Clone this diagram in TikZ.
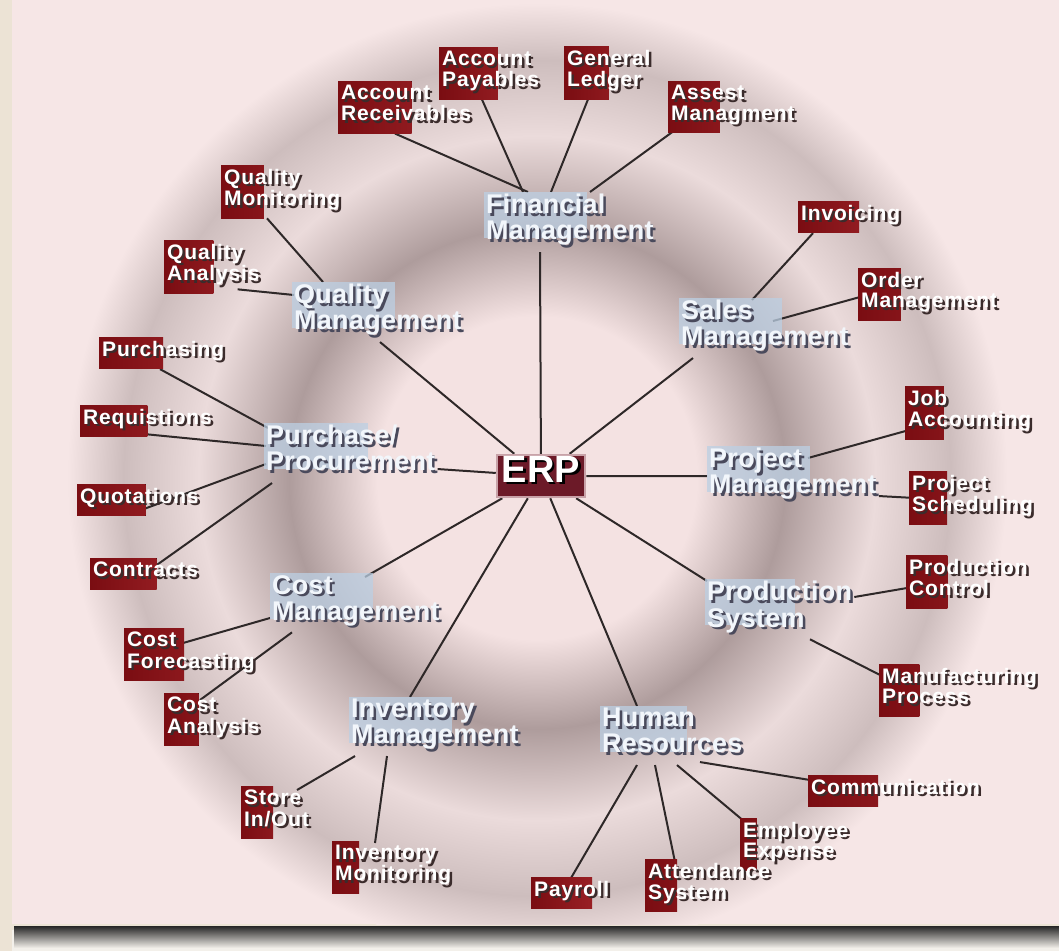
\documentclass[tikz,border=0pt]{standalone}
\usepackage{fontspec}
\setmainfont{Liberation Sans}
\newfontfamily\leafff[LetterSpace=4]{Liberation Sans}
\newfontfamily\modff[LetterSpace=1]{Liberation Sans}
\usetikzlibrary{calc}
\definecolor{rc0}{HTML}{F4E2E2}
\definecolor{rc1}{HTML}{AE9C9C}
\definecolor{rc2}{HTML}{EBDBDB}
\definecolor{rc3}{HTML}{CDBDBD}
\definecolor{rc4}{HTML}{F6E6E6}
\definecolor{panel}{HTML}{F6E6E6}
\definecolor{beige}{HTML}{ECE3D5}
\definecolor{lowbg}{HTML}{F3F0EA}
\definecolor{redA}{HTML}{7A0D12}
\definecolor{redB}{HTML}{A3262B}
\definecolor{bluebox}{HTML}{BCD0E4}
\definecolor{leafsh}{HTML}{3B2C2C}
\definecolor{modsh}{HTML}{4A4A5C}
\definecolor{modtext}{HTML}{F2F6FB}
\definecolor{lineC}{HTML}{2E2828}
\definecolor{erpfill}{HTML}{6C1A28}
\definecolor{erpedge}{HTML}{C8A2A8}
\pgfdeclareradialshading{erpring}{\pgfpoint{0bp}{0bp}}{color(0bp)=(rc0); color(8.5bp)=(rc0); color(13.2bp)=(rc1); color(18bp)=(rc2); color(22bp)=(rc3); color(25bp)=(rc4); color(50bp)=(rc4)}
\pgfdeclarelayer{bg}
\pgfdeclarelayer{lines}
\pgfsetlayers{bg,lines,main}
\newlength\shoff
\setlength\shoff{2.5pt}
\def\shcol{leafsh}
\newcommand\sh[1]{\leavevmode\rlap{\kern\shoff\raisebox{-\shoff}{\color{\shcol}\begin{tabular}[b]{@{}l@{}}#1\end{tabular}}}\begin{tabular}[b]{@{}l@{}}#1\end{tabular}}
\begin{document}
\begin{tikzpicture}[x=1pt,y=-1pt,
  leaf/.style={anchor=north west, inner xsep=3pt, inner ysep=4pt, text=white,
    font={\leafff\bfseries\fontsize{21}{20}\selectfont\def\shcol{leafsh}\setlength\shoff{2.5pt}},
    path picture={\fill[left color=redA, right color=redB] (path picture bounding box.north west) rectangle ($(path picture bounding box.south west)!#1!(path picture bounding box.south east)$);}},
  leaf/.default=0.5,
  mod/.style={anchor=north west, inner sep=2pt, text=modtext,
    font={\modff\bfseries\fontsize{27}{25}\selectfont\def\shcol{modsh}\setlength\shoff{2.5pt}},
    path picture={\fill[bluebox, opacity=0.75] (path picture bounding box.north west) rectangle ($(path picture bounding box.north west)!0.6!(path picture bounding box.north east)+(0,46)$);}},
  erpbox/.style={draw=erpedge, line width=2.5pt, fill=erpfill, minimum width=88pt, minimum height=42pt, inner sep=0pt, text=white,
    font={\bfseries\fontsize{38}{38}\selectfont\def\shcol{black}\setlength\shoff{2.5pt}}},
  conn/.style={draw=lineC, line width=2pt}]
\useasboundingbox (0,0) rectangle (1059,951);

% ---------- nodes ----------
\node[erpbox] (erp) at (541,476) {\sh{ERP}};

\node[mod] (fin)   at (484,192) {\sh{Financial\\Management}};
\node[mod] (qual)  at (292,282) {\sh{Quality\\Management}};
\node[mod] (sales) at (679,298) {\sh{Sales\\Management}};
\node[mod] (purch) at (264,423) {\sh{Purchase/\\Procurement}};
\node[mod] (proj)  at (707,446) {\sh{Project\\Management}};
\node[mod] (cost)  at (270,573) {\sh{Cost\\Management}};
\node[mod] (prod)  at (705,579) {\sh{Production\\System}};
\node[mod] (invm)  at (349,697) {\sh{Inventory\\Management}};
\node[mod] (hr)    at (600,706) {\sh{Human\\Resources}};

\node[leaf=.54] (ar)   at (338,81)  {\sh{Account\\Receivables}};
\node[leaf=.57] (ap)   at (439,47)  {\sh{Account\\Payables}};
\node[leaf=.5]  (gl)   at (564,46)  {\sh{General\\Ledger}};
\node[leaf=.4]  (am)   at (668,81)  {\sh{Assest\\Managment}};
\node[leaf=.35] (qm)   at (221,165) {\sh{Quality\\Monitoring}};
\node[leaf=.5]  (qa)   at (164,240) {\sh{Quality\\Analysis}};
\node[leaf=.58] (inv)  at (798,201) {\sh{Invoicing}};
\node[leaf=.3]  (om)   at (858,268) {\sh{Order\\Management}};
\node[leaf=.5]  (pur)  at (99,337)  {\sh{Purchasing}};
\node[leaf=.5]  (req)  at (80,405)  {\sh{Requistions}};
\node[leaf=.55] (quo)  at (77,484)  {\sh{Quotations}};
\node[leaf=.6]  (con)  at (90,558)  {\sh{Contracts}};
\node[leaf=.3]  (ja)   at (905,386) {\sh{Job\\Accounting}};
\node[leaf=.3]  (ps)   at (909,471) {\sh{Project\\Scheduling}};
\node[leaf=.45] (cf)   at (124,628) {\sh{Cost\\Forecasting}};
\node[leaf=.35] (ca)   at (164,693) {\sh{Cost\\Analysis}};
\node[leaf=.33] (pc)   at (906,555) {\sh{Production\\Control}};
\node[leaf=.25] (mp)   at (879,664) {\sh{Manufacturing\\Process}};
\node[leaf=.45] (sio)  at (241,786) {\sh{Store\\In/Out}};
\node[leaf=.22] (im)   at (332,841) {\sh{Inventory\\Monitoring}};
\node[leaf=.4]  (comm) at (808,775) {\sh{Communication}};
\node[leaf=.15] (ee)   at (740,818) {\sh{Employee\\Expense}};
\node[leaf=.25] (as)   at (645,859) {\sh{Attendance\\System}};
\node[leaf=.75] (pay)  at (531,877) {\sh{Payroll}};

% ---------- background ----------
\begin{pgfonlayer}{bg}
  \fill[beige] (0,0) rectangle (1059,951);
  \fill[lowbg] (12,930) rectangle (1059,951);
  \fill[panel] (12,0) rectangle (1059,924);
  \begin{scope}
    \clip (12,0) rectangle (1059,924);
    \shade[shading=erpring] (537,478) ellipse [x radius=470pt, y radius=475pt];
  \end{scope}
  \shade[top color=black!85, bottom color=lowbg] (14,926) rectangle (1059,948);
\end{pgfonlayer}

% ---------- connectors ----------
\begin{pgfonlayer}{lines}
  \draw[conn] (erp) -- ($(fin.south west)+(56,0)$);
  \draw[conn] (erp) -- ($(qual.south west)+(88,0)$);
  \draw[conn] (erp) -- ($(sales.south west)+(14,0)$);
  \draw[conn] (erp) -- ($(purch.south east)+(0,-14)$);
  \draw[conn] (erp) -- (proj.west);
  \draw[conn] (erp) -- ($(cost.north west)+(95,4)$);
  \draw[conn] (erp) -- ($(prod.north west)+(2,2)$);
  \draw[conn] (erp) -- ($(invm.north west)+(61,0)$);
  \draw[conn] (erp) -- ($(hr.north west)+(37,0)$);

  \draw[conn] ($(ar.south west)+(57,0)$) -- ($(fin.north west)+(44,0)$);
  \draw[conn] ($(ap.south west)+(43,0)$) -- ($(fin.north west)+(39,0)$);
  \draw[conn] ($(gl.south west)+(24,0)$) -- ($(fin.north west)+(67,0)$);
  \draw[conn] ($(am.south west)+(6,-2)$) -- ($(fin.north west)+(106,0)$);
  \draw[conn] ($(qm.south west)+(46,0)$) -- ($(qual.north west)+(31,0)$);
  \draw[conn] ($(qa.south east)+(-25,-4)$) -- ($(qual.north west)+(2,13)$);
  \draw[conn] ($(inv.south west)+(15,0)$) -- ($(sales.north west)+(73,2)$);
  \draw[conn] ($(om.north west)+(2,29)$) -- ($(sales.north west)+(94,23)$);
  \draw[conn] ($(pur.south west)+(61,0)$) -- ($(purch.north west)+(4,5)$);
  \draw[conn] ($(req.south west)+(65,-3)$) -- ($(purch.north west)+(2,23)$);
  \draw[conn] ($(quo.south west)+(53,-2)$) -- ($(purch.north west)+(2,41)$);
  \draw[conn] ($(con.south west)+(35,-2)$) -- ($(purch.south west)+(8,0)$);
  \draw[conn] ($(ja.south west)+(3,-9)$) -- ($(proj.north west)+(101,12)$);
  \draw[conn] (ps.west) -- ($(proj.south east)+(0,-10)$);
  \draw[conn] ($(cf.north west)+(59,15)$) -- ($(cost.north west)+(0,45)$);
  \draw[conn] ($(ca.north west)+(36,7)$) -- ($(cost.south west)+(22,0)$);
  \draw[conn] ($(pc.north west)+(1,33)$) -- ($(prod.north east)+(0,18)$);
  \draw[conn] ($(mp.north west)+(3,12)$) -- ($(prod.south west)+(105,0)$);
  \draw[conn] ($(sio.north west)+(56,4)$) -- ($(invm.south west)+(6,0)$);
  \draw[conn] ($(im.north west)+(43,2)$) -- ($(invm.south west)+(38,0)$);
  \draw[conn] ($(comm.north west)+(2,5)$) -- ($(hr.south west)+(100,-3)$);
  \draw[conn] ($(ee.north west)+(5,4)$) -- ($(hr.south west)+(77,0)$);
  \draw[conn] ($(as.north west)+(30,3)$) -- ($(hr.south west)+(55,0)$);
  \draw[conn] ($(pay.north west)+(40,1)$) -- ($(hr.south west)+(37,0)$);
\end{pgfonlayer}
\end{tikzpicture}
\end{document}
